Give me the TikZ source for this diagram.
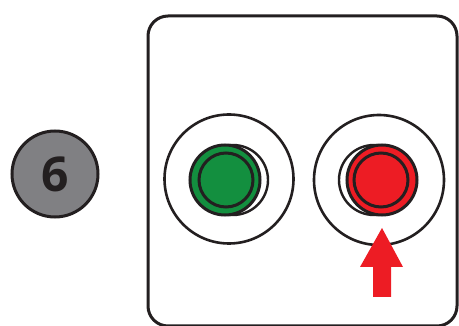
\documentclass[tikz,border=0pt]{standalone}
\usepackage{fontspec}
\setmainfont{Open Sans}
\definecolor{btngreen}{HTML}{138F3F}
\definecolor{btnred}{HTML}{ED1C24}
\definecolor{badgegray}{HTML}{808083}
\definecolor{ink}{HTML}{231F20}
\begin{document}
\begin{tikzpicture}[x=1pt,y=-1pt,
  ring/.style={draw=ink,line width=2.6pt,fill=white},
  btn/.style={draw=ink,line width=3pt},
  shadowbtn/.style={draw=ink,line width=2.4pt,fill=white}]
\useasboundingbox (0,0) rectangle (459,326);
\draw[draw=ink,line width=3pt,rounded corners=20pt] (148,16) rectangle (457,326);
% badge
\node[circle,draw=ink,line width=3pt,fill=badgegray,minimum size=86pt,inner sep=0pt,
  font=\fontsize{48}{48}\selectfont\bfseries,text=ink] (badge) at (55,174) {6};
% green button
\node[circle,ring,minimum size=129pt,inner sep=0pt] (gring) at (229,179) {};
\node[circle,shadowbtn,minimum size=70pt,inner sep=0pt] (gshadow) at (233,180) {};
\node[circle,btn,fill=btngreen,minimum size=70pt,inner sep=0pt] (gbtn) at (225,180) {};
\node[circle,btn,minimum size=54pt,inner sep=0pt] (gin) at (226,180) {};
% red button
\node[circle,ring,minimum size=130pt,inner sep=0pt] (rring) at (379,180) {};
\node[circle,shadowbtn,minimum size=70pt,inner sep=0pt] (rshadow) at (374,180) {};
\node[circle,btn,fill=btnred,minimum size=70pt,inner sep=0pt] (rbtn) at (382,180) {};
\node[circle,btn,minimum size=54pt,inner sep=0pt] (rin) at (381,180) {};
% arrow
\fill[btnred] (382,228) -- (403,267) -- (391,267) -- (391,297) -- (373,297) -- (373,267) -- (360,267) -- cycle;
\end{tikzpicture}
\end{document}
